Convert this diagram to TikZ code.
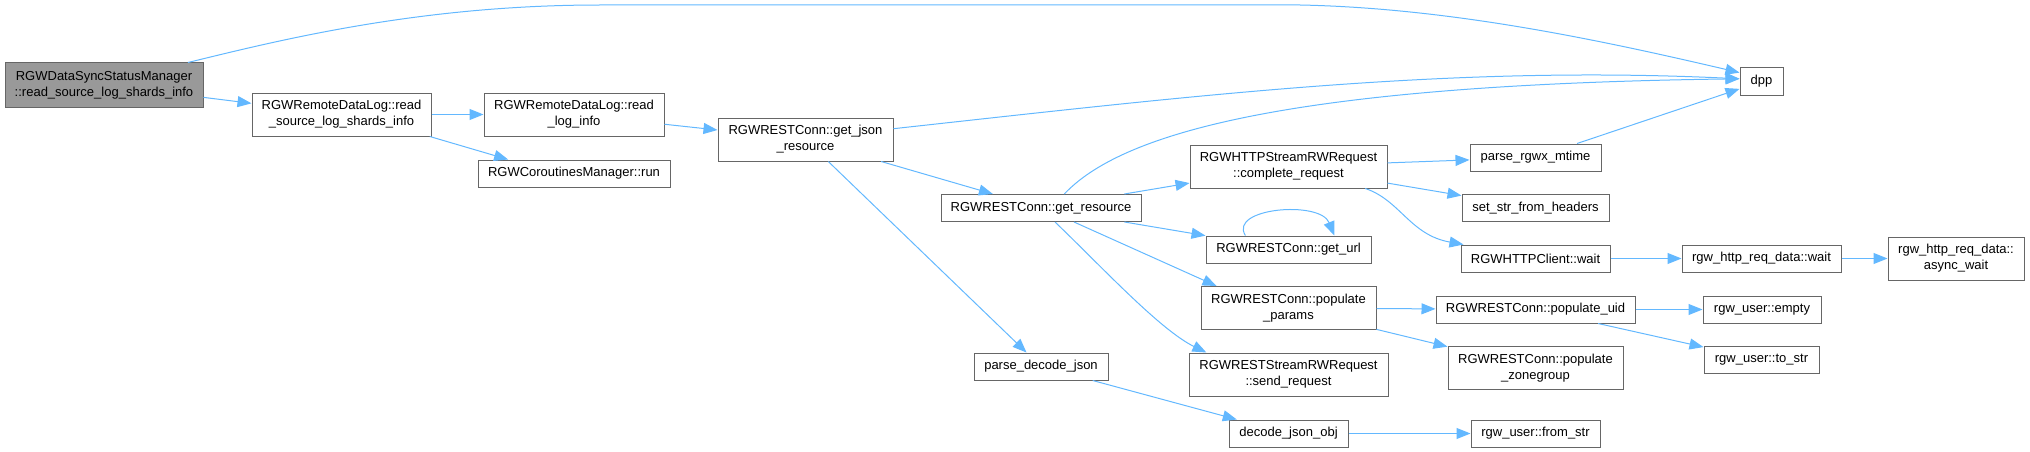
\documentclass[tikz,border=0pt]{standalone}
\usepackage{fontspec}
\setmainfont{Liberation Sans}
\usetikzlibrary{arrows.meta}
\definecolor{edgec}{HTML}{63B8FF}
\definecolor{borderc}{HTML}{666666}
\definecolor{rootc}{HTML}{999999}
\tikzset{
  box/.style={draw=borderc, fill=white, line width=1pt, inner sep=0pt, align=center,
    font=\fontsize{13}{16}\selectfont},
  rootbox/.style={box, fill=rootc},
  edge/.style={draw=edgec, line width=1pt, -{Triangle[length=14pt,width=11pt]}}
}
\begin{document}
\begin{tikzpicture}[x=1pt,y=-1pt]
\useasboundingbox (0,0) rectangle (2030,452);
% nodes
\node[rootbox, minimum width=198pt, minimum height=44pt] (n1) at (104,85) {RGWDataSyncStatusManager\\::read\_source\_log\_shards\_info};
\node[box, minimum width=179pt, minimum height=43pt] (n2) at (341.5,114.5) {RGWRemoteDataLog::read\\\_source\_log\_shards\_info};
\node[box, minimum width=180pt, minimum height=43pt] (n3) at (574,114.5) {RGWRemoteDataLog::read\\\_log\_info};
\node[box, minimum width=192pt, minimum height=27pt] (n4) at (574,173.5) {RGWCoroutinesManager::run};
\node[box, minimum width=175pt, minimum height=43pt] (n5) at (805.5,139.5) {RGWRESTConn::get\_json\\\_resource};
\node[box, minimum width=43pt, minimum height=27pt] (dpp) at (1761.5,81.5) {dpp};
\node[box, minimum width=200pt, minimum height=27pt] (n7) at (1041,208) {RGWRESTConn::get\_resource};
\node[box, minimum width=197pt, minimum height=43pt] (n8) at (1288.5,166.5) {RGWHTTPStreamRWRequest\\::complete\_request};
\node[box, minimum width=131pt, minimum height=27pt] (n9) at (1535.5,157.5) {parse\_rgwx\_mtime};
\node[box, minimum width=147pt, minimum height=27pt] (n10) at (1535.5,208) {set\_str\_from\_headers};
\node[box, minimum width=165pt, minimum height=27pt] (n11) at (1288.5,249.5) {RGWRESTConn::get\_url};
\node[box, minimum width=149pt, minimum height=27pt] (n12) at (1535.5,258.5) {RGWHTTPClient::wait};
\node[box, minimum width=159pt, minimum height=27pt] (n13) at (1761.5,258.5) {rgw\_http\_req\_data::wait};
\node[box, minimum width=136pt, minimum height=43pt] (n14) at (1956,258.5) {rgw\_http\_req\_data::\\async\_wait};
\node[box, minimum width=175pt, minimum height=43pt] (n15) at (1288.5,308) {RGWRESTConn::populate\\\_params};
\node[box, minimum width=199pt, minimum height=27pt] (n16) at (1535.5,309.5) {RGWRESTConn::populate\_uid};
\node[box, minimum width=118pt, minimum height=27pt] (n17) at (1762,309.5) {rgw\_user::empty};
\node[box, minimum width=115pt, minimum height=27pt] (n18) at (1761.5,360) {rgw\_user::to\_str};
\node[box, minimum width=175pt, minimum height=43pt] (n19) at (1535.5,368) {RGWRESTConn::populate\\\_zonegroup};
\node[box, minimum width=199pt, minimum height=43pt] (n20) at (1288.5,374.5) {RGWRESTStreamRWRequest\\::send\_request};
\node[box, minimum width=134pt, minimum height=27pt] (n21) at (1041,366.5) {parse\_decode\_json};
\node[box, minimum width=119pt, minimum height=27pt] (n22) at (1288.5,433.5) {decode\_json\_obj};
\node[box, minimum width=129pt, minimum height=27pt] (n23) at (1535.5,433.5) {rgw\_user::from\_str};
% edges
\draw[edge] (n1.15) .. controls (280,40) and (420,5) .. (600,5) -- (1300,5) .. controls (1450,8) and (1600,40) .. (dpp.158);
\draw[edge] (n1) -- (n2);
\draw[edge] (n2) -- (n3);
\draw[edge] (n2.-14) -- (n4.168);
\draw[edge] (n3) -- (n5);
\draw[edge] (n5.7) .. controls (1200,95) and (1450,65) .. (dpp.173);
\draw[edge] (n5) -- (n7);
\draw[edge] (n5) -- (n21);
\draw[edge] (n7.31) .. controls (1120,135) and (1280,85) .. (dpp.173);
\draw[edge] (n7) -- (n8);
\draw[edge] (n7) -- (n11);
\draw[edge] (n7.-23) -- (n15.163);
\draw[edge] (n7.-45) .. controls (1100,265) and (1160,330) .. (n20.165);
\draw[edge] (n11.162) .. controls (1228,208) and (1320,200) .. (n11.17);
\draw[edge] (n8) -- (n9);
\draw[edge] (n8) -- (n10);
\draw[edge] (n8.-16) .. controls (1400,200) and (1410,235) .. (n12.169);
\draw[edge] (n9) -- (dpp);
\draw[edge] (n12) -- (n13);
\draw[edge] (n13) -- (n14);
\draw[edge] (n15) -- (n16);
\draw[edge] (n15) -- (n19);
\draw[edge] (n16) -- (n17);
\draw[edge] (n16) -- (n18);
\draw[edge] (n21) -- (n22);
\draw[edge] (n22) -- (n23);
\end{tikzpicture}
\end{document}
